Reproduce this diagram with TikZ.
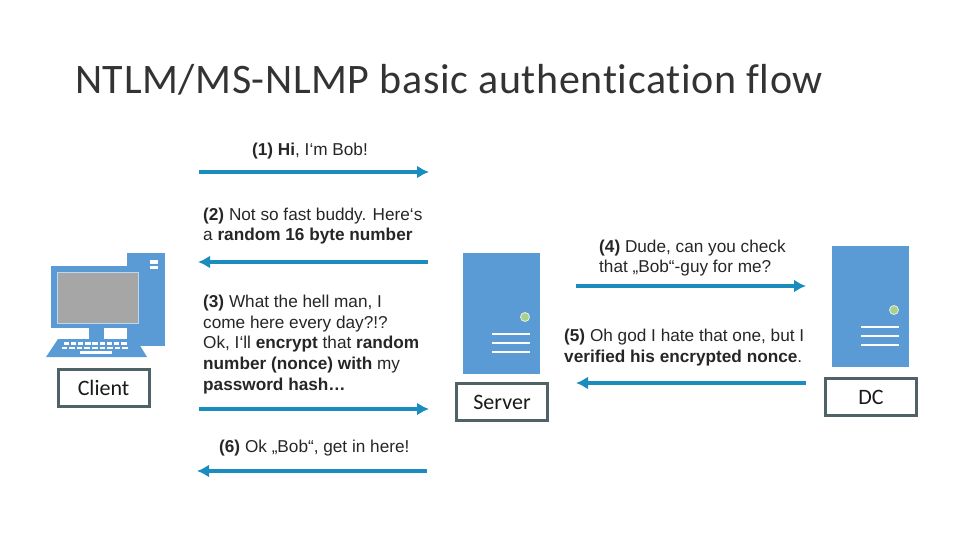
\documentclass[tikz,border=0pt]{standalone}
\usepackage{fontspec}
\setmainfont{Liberation Sans}
\newfontfamily\titlefont{Carlito}
\newfontfamily\headfont[LetterSpace=1.5,Ligatures=NoCommon]{Carlito}
\usetikzlibrary{arrows.meta}
\definecolor{arrowblue}{HTML}{1B8CBE}
\definecolor{pcblue}{HTML}{5B9BD5}
\definecolor{boxgrey}{HTML}{4F6268}
\definecolor{ledgreen}{HTML}{A9D18E}
\definecolor{screengrey}{HTML}{A6A6A6}
\tikzset{
  msg/.style={anchor=west, align=left, inner sep=0pt, text=black!85, font=\fontsize{17.2}{20.8}\selectfont},
  flow/.style={draw=arrowblue, line width=3.5pt, -{Latex[length=12pt,width=13pt]}},
  label box/.style={draw=boxgrey, line width=3pt, fill=white, inner sep=0pt, minimum width=91pt, minimum height=37pt, font=\titlefont\fontsize{22}{26}\selectfont, text=black!90},
}
\begin{document}
\begin{tikzpicture}[x=1pt, y=-1pt]
      \useasboundingbox (0,0) rectangle (960,540);
      \node[anchor=west, inner sep=0pt, font=\headfont\fontsize{42}{48}\selectfont, text=black!80] (title) at (75,80) {NTLM/MS-NLMP basic authentication flow};

      % client machine
      \fill[pcblue] (127,253) rectangle (165,346);
      \fill[white] (150,260) rectangle (158,264);
      \fill[white] (150,266) rectangle (158,269);
      \fill[pcblue] (89,328) rectangle (104,339);
      \fill[pcblue] (51,266) rectangle (143,328);
      \fill[screengrey, draw=white!60!pcblue, line width=0.6pt] (57,272) rectangle (138,323);
      \fill[pcblue] (58,339) -- (136,339) -- (147,357) -- (46,357) -- cycle;
      \foreach \i in {0,...,8} {
        \fill[white] (63.5+\i*7.2,342) rectangle +(5.4,2.6);
        \fill[white] (61.5+\i*7.6,346.5) rectangle +(5.6,2.8);
      }
      \fill[white] (80,351) rectangle (112,354);

      % server and domain controller
      \foreach \x/\y in {463/253,832/246} {
        \fill[pcblue] (\x,\y) rectangle +(77,120.5);
        \fill[ledgreen, draw=white!70!ledgreen, line width=0.8pt] (\x+62,\y+64) circle (4.5);
        \foreach \j in {81,90,99} {
          \draw[white, line width=2.2pt] (\x+29,\y+\j) -- (\x+67,\y+\j);
        }
      }

      \node[label box] (client) at (103.5,388) {Client};
      \node[label box] (server) at (502,402) {Server};
      \node[label box] (dc) at (871,397) {DC};

      \node[msg] (hi) at (252,151.5) {\textbf{(1) Hi}, I‘m Bob!};
      \node[msg] (nonce) at (203,226) {\textbf{(2)} Not so fast buddy. Here‘s\\a \textbf{random 16 byte number}};
      \node[msg] (encrypt) at (203,344.5) {\textbf{(3)} What the hell man, I\\come here every day?!?\\Ok, I‘ll \textbf{encrypt} that \textbf{random}\\\textbf{number (nonce) with} my\\\textbf{password hash…}};
      \node[msg] (check) at (599,258) {\textbf{(4)} Dude, can you check\\that „Bob“-guy for me?};
      \node[msg] (verified) at (564,347.5) {\textbf{(5)} Oh god I hate that one, but I\\\textbf{verified his encrypted nonce}.};
      \node[msg] (getin) at (219,448.5) {\textbf{(6)} Ok „Bob“, get in here!};

      \coordinate (a1) at (199,172); \coordinate (b1) at (429,172);
      \coordinate (a2) at (428,262); \coordinate (b2) at (198,262);
      \coordinate (a3) at (199,409); \coordinate (b3) at (429,409);
      \coordinate (a4) at (576,286); \coordinate (b4) at (806,286);
      \coordinate (a5) at (806,383); \coordinate (b5) at (576,383);
      \coordinate (a6) at (427,471); \coordinate (b6) at (197,471);
      \foreach \n in {1,...,6} {
        \draw[flow] (a\n) -- (b\n);
      }
    \end{tikzpicture}
\end{document}
